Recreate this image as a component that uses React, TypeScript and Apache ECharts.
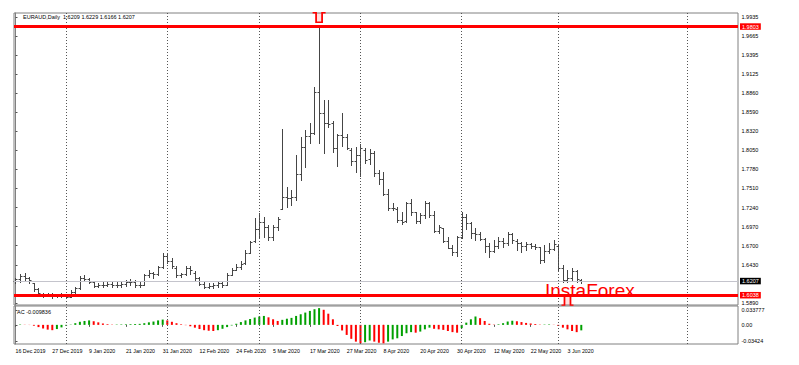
import { useEffect, useRef } from 'react';
import * as echarts from 'echarts';

// ---- data ----
const dateLabels = ['16 Dec 2019', '27 Dec 2019', '9 Jan 2020', '21 Jan 2020', '31 Jan 2020', '12 Feb 2020', '24 Feb 2020', '5 Mar 2020', '17 Mar 2020', '27 Mar 2020', '8 Apr 2020', '20 Apr 2020', '30 Apr 2020', '12 May 2020', '22 May 2020', '3 Jun 2020'];
const dateLabelIdx = [0, 8, 16, 24, 32, 40, 48, 56, 64, 72, 80, 88, 96, 104, 112, 120];
const gridLineIdx = [11, 33, 53, 75, 97, 118, 146];

const openP = [1.6200, 1.6225, 1.6270, 1.6250, 1.6170, 1.6090, 1.6020, 1.6000, 1.6005, 1.5990, 1.6000, 1.5990, 1.5980, 1.6050, 1.6095, 1.6240, 1.6230, 1.6180, 1.6130, 1.6150, 1.6140, 1.6160, 1.6140, 1.6150, 1.6160, 1.6190, 1.6180, 1.6140, 1.6150, 1.6280, 1.6310, 1.6300, 1.6400, 1.6560, 1.6480, 1.6390, 1.6290, 1.6300, 1.6380, 1.6320, 1.6240, 1.6160, 1.6120, 1.6130, 1.6140, 1.6170, 1.6150, 1.6290, 1.6360, 1.6400, 1.6450, 1.6600, 1.6760, 1.6940, 1.7030, 1.6970, 1.6820, 1.6960, 1.7220, 1.7390, 1.7380, 1.7390, 1.7720, 1.8090, 1.8250, 1.8300, 1.8880, 1.8580, 1.8430, 1.8430, 1.8080, 1.8260, 1.8240, 1.8060, 1.7900, 1.7980, 1.8060, 1.7920, 1.8010, 1.7730, 1.7650, 1.7430, 1.7230, 1.7220, 1.7070, 1.7050, 1.7300, 1.7170, 1.7050, 1.7130, 1.7300, 1.7135, 1.6910, 1.6950, 1.6770, 1.6670, 1.6610, 1.6820, 1.7110, 1.7020, 1.6885, 1.6870, 1.6800, 1.6690, 1.6620, 1.6700, 1.6760, 1.6740, 1.6860, 1.6770, 1.6740, 1.6690, 1.6720, 1.6700, 1.6680, 1.6500, 1.6620, 1.6660, 1.6700, 1.6380, 1.6220, 1.6240, 1.6340, 1.6209];
const highP = [1.6243, 1.6300, 1.6314, 1.6257, 1.6172, 1.6102, 1.6031, 1.6030, 1.6025, 1.6020, 1.6030, 1.6020, 1.6070, 1.6110, 1.6270, 1.6290, 1.6250, 1.6185, 1.6170, 1.6180, 1.6200, 1.6180, 1.6180, 1.6185, 1.6220, 1.6230, 1.6210, 1.6180, 1.6300, 1.6350, 1.6330, 1.6420, 1.6590, 1.6600, 1.6530, 1.6420, 1.6320, 1.6420, 1.6420, 1.6340, 1.6260, 1.6180, 1.6170, 1.6175, 1.6200, 1.6190, 1.6310, 1.6390, 1.6440, 1.6480, 1.6640, 1.6760, 1.7098, 1.7167, 1.7110, 1.6993, 1.6993, 1.7106, 1.8351, 1.7531, 1.7488, 1.7983, 1.8242, 1.8337, 1.8431, 1.8949, 1.9803, 1.8761, 1.8761, 1.8464, 1.8276, 1.8573, 1.8285, 1.8078, 1.8101, 1.8134, 1.8078, 1.8071, 1.8040, 1.7771, 1.7738, 1.7502, 1.7300, 1.7253, 1.7182, 1.7323, 1.7361, 1.7182, 1.7160, 1.7333, 1.7314, 1.7191, 1.6993, 1.6955, 1.6828, 1.6710, 1.6840, 1.7180, 1.7153, 1.7030, 1.6946, 1.6899, 1.6810, 1.6734, 1.6781, 1.6828, 1.6805, 1.6899, 1.6880, 1.6790, 1.6757, 1.6757, 1.6743, 1.6724, 1.6687, 1.6710, 1.6734, 1.6781, 1.6710, 1.6427, 1.6357, 1.6380, 1.6357, 1.6229];
const lowP = [1.6172, 1.6186, 1.6215, 1.6172, 1.6059, 1.6003, 1.5975, 1.5985, 1.5965, 1.5980, 1.5970, 1.5960, 1.5975, 1.6030, 1.6090, 1.6200, 1.6170, 1.6110, 1.6110, 1.6120, 1.6130, 1.6120, 1.6120, 1.6120, 1.6130, 1.6150, 1.6120, 1.6110, 1.6140, 1.6260, 1.6250, 1.6290, 1.6390, 1.6450, 1.6390, 1.6260, 1.6260, 1.6290, 1.6300, 1.6215, 1.6140, 1.6100, 1.6100, 1.6105, 1.6120, 1.6120, 1.6140, 1.6280, 1.6350, 1.6370, 1.6440, 1.6590, 1.6750, 1.6828, 1.6828, 1.6781, 1.6781, 1.6923, 1.7220, 1.7248, 1.7276, 1.7347, 1.7630, 1.7818, 1.8148, 1.8280, 1.8148, 1.8016, 1.8383, 1.8030, 1.7832, 1.8115, 1.8064, 1.7842, 1.7738, 1.7691, 1.7866, 1.7859, 1.7691, 1.7569, 1.7417, 1.7205, 1.7205, 1.7040, 1.7003, 1.7040, 1.7135, 1.7017, 1.7017, 1.7088, 1.7111, 1.6899, 1.6876, 1.6748, 1.6663, 1.6569, 1.6550, 1.6810, 1.6941, 1.6805, 1.6781, 1.6781, 1.6616, 1.6545, 1.6616, 1.6663, 1.6687, 1.6710, 1.6740, 1.6639, 1.6616, 1.6639, 1.6663, 1.6649, 1.6451, 1.6474, 1.6593, 1.6639, 1.6357, 1.6191, 1.6191, 1.6215, 1.6191, 1.6166];
const closeP = [1.6230, 1.6270, 1.6250, 1.6210, 1.6085, 1.6030, 1.6000, 1.6010, 1.5985, 1.6000, 1.5990, 1.5975, 1.6050, 1.6095, 1.6240, 1.6230, 1.6190, 1.6130, 1.6150, 1.6140, 1.6160, 1.6140, 1.6150, 1.6160, 1.6190, 1.6180, 1.6140, 1.6150, 1.6280, 1.6310, 1.6300, 1.6400, 1.6560, 1.6480, 1.6420, 1.6290, 1.6300, 1.6380, 1.6350, 1.6240, 1.6160, 1.6120, 1.6130, 1.6140, 1.6170, 1.6150, 1.6290, 1.6360, 1.6400, 1.6440, 1.6600, 1.6750, 1.6940, 1.7030, 1.6970, 1.6820, 1.6960, 1.7080, 1.7390, 1.7380, 1.7390, 1.7720, 1.8090, 1.8250, 1.8300, 1.8880, 1.8580, 1.8430, 1.8420, 1.8080, 1.8260, 1.8240, 1.8080, 1.7900, 1.7980, 1.8080, 1.7910, 1.8010, 1.7730, 1.7650, 1.7430, 1.7230, 1.7240, 1.7070, 1.7040, 1.7300, 1.7170, 1.7050, 1.7130, 1.7300, 1.7135, 1.6910, 1.6960, 1.6770, 1.6670, 1.6610, 1.6820, 1.7110, 1.7020, 1.6885, 1.6870, 1.6800, 1.6690, 1.6620, 1.6700, 1.6760, 1.6740, 1.6860, 1.6780, 1.6740, 1.6690, 1.6720, 1.6700, 1.6680, 1.6500, 1.6620, 1.6660, 1.6720, 1.6380, 1.6220, 1.6240, 1.6340, 1.6230, 1.6207];

const acValues = [0.0004, 0.0007, 0.0003, -0.0003, -0.0015, -0.0040, -0.0065, -0.0085, -0.0095, -0.0075, -0.0045, -0.0015, 0.0005, 0.0030, 0.0055, 0.0070, 0.0080, 0.0065, 0.0045, 0.0025, 0.0012, 0.0005, 0.0006, 0.0008, 0.0010, 0.0012, 0.0015, 0.0018, 0.0030, 0.0045, 0.0060, 0.0080, 0.0095, 0.0080, 0.0055, 0.0030, 0.0010, -0.0005, -0.0025, -0.0050, -0.0075, -0.0095, -0.0105, -0.0110, -0.0095, -0.0070, -0.0040, -0.0010, 0.0020, 0.0050, 0.0080, 0.0105, 0.0130, 0.0150, 0.0160, 0.0135, 0.0100, 0.0070, 0.0090, 0.0110, 0.0125, 0.0160, 0.0190, 0.0220, 0.0250, 0.0280, 0.0300, 0.0270, 0.0200, 0.0100, -0.0020, -0.0100, -0.0180, -0.0250, -0.0300, -0.0330, -0.0310, -0.0280, -0.0300, -0.0320, -0.0330, -0.0300, -0.0260, -0.0240, -0.0200, -0.0150, -0.0130, -0.0140, -0.0120, -0.0080, -0.0050, -0.0070, -0.0080, -0.0090, -0.0110, -0.0130, -0.0140, -0.0060, 0.0040, 0.0100, 0.0150, 0.0120, 0.0070, 0.0020, 0.0005, 0.0010, 0.0030, 0.0060, 0.0075, 0.0065, 0.0050, 0.0035, 0.0025, 0.0015, 0.0005, 0.0006, 0.0008, 0.0003, -0.0020, -0.0050, -0.0080, -0.0110, -0.0130, -0.009836];

const priceTicks = [1.9935, 1.9665, 1.9395, 1.9125, 1.8860, 1.8590, 1.8320, 1.8050, 1.7780, 1.7510, 1.7240, 1.6970, 1.6700, 1.6430, 1.5890];
const acTickLabels = ['0.033777', '0.00', '-0.03424'];
const acTickPos = [0.0267, 0, -0.0288];

const hLevels = [
  { value: 1.9803, text: '1.9803', line: '#ff0000', width: 3, bg: '#ff0000' },
  { value: 1.6038, text: '1.6038', line: '#ff0000', width: 3, bg: '#ff0000' },
  { value: 1.6207, text: '1.6207', line: '#c4c4cc', width: 1, bg: '#000000' },
];
const markers = [
  { index: 66, price: 1.9928, path: 'path://M0,0 L3.5,0 L3.5,9.5 L9.5,9.5 L9.5,0 L13,0', size: [13, 9.5] },
  { index: 120, price: 1.5922, path: 'path://M0,9.5 L3,9.5 L3,0 L9,0 L9,9.5 L12,9.5', size: [12, 9] },
];

const FONT = '"Liberation Sans", Arial, sans-serif';
const BAR = '#454545';
const GREEN = '#00a000';
const RED = '#ff0000';
const X_MIN = -0.326;
const X_MAX = 157.07;

export default function App() {
  const ref = useRef<HTMLDivElement>(null);
  useEffect(() => {
    const chart = echarts.init(ref.current!, null, { renderer: 'svg' });
    const ohlcData = openP.map((o, i) => [i, o, highP[i], lowP[i], closeP[i]]);
    const acData = acValues.map((v, i) => ({
      value: [i, v],
      itemStyle: { color: i === 0 || v >= acValues[i - 1] ? GREEN : RED },
    }));
    const vLines = gridLineIdx.map((x) => ({ xAxis: x }));
    const dotted = { type: [1, 2] as any, color: '#555', width: 1 };

    const option: any = {
      animation: false,
      backgroundColor: '#ffffff',
      textStyle: { fontFamily: FONT },
      grid: [
        { left: 14, top: 13, width: 724, height: 292, show: true, borderColor: '#808080', borderWidth: 1, backgroundColor: 'transparent' },
        { left: 14, top: 306, width: 724, height: 38, show: true, borderColor: '#808080', borderWidth: 1, backgroundColor: 'transparent' },
      ],
      xAxis: [
        { type: 'value', gridIndex: 0, min: X_MIN, max: X_MAX, show: false },
        {
          type: 'value', gridIndex: 1, min: X_MIN, max: X_MAX,
          axisLine: { show: false },
          splitLine: { show: false },
          axisTick: { show: true, customValues: dateLabelIdx, length: 2, lineStyle: { color: '#555' } },
          axisLabel: {
            customValues: dateLabelIdx, align: 'left', margin: 4, fontSize: 5.3, color: '#000', fontFamily: FONT,
            formatter: (v: number) => dateLabels[dateLabelIdx.indexOf(Math.round(v))] ?? '',
          },
        },
      ],
      yAxis: [
        {
          type: 'value', gridIndex: 0, position: 'right', min: 1.58615, max: 1.99916, scale: true,
          axisLine: { show: true, lineStyle: { color: '#808080' } },
          splitLine: { show: false },
          axisTick: { show: true, customValues: priceTicks, length: 2, lineStyle: { color: '#555' } },
          axisLabel: { customValues: priceTicks, margin: 3.5, fontSize: 5.5, color: '#000', fontFamily: FONT, formatter: (v: number) => v.toFixed(4) },
        },
        {
          type: 'value', gridIndex: 1, position: 'right', min: -0.03424, max: 0.033777,
          axisLine: { show: true, lineStyle: { color: '#808080' } },
          splitLine: { show: false },
          axisTick: { show: true, customValues: acTickPos, length: 2, lineStyle: { color: '#555' } },
          axisLabel: {
            customValues: acTickPos, margin: 3.5, fontSize: 5.5, color: '#000', fontFamily: FONT,
            formatter: (v: number) => {
              let best = 0;
              acTickPos.forEach((p, k) => { if (Math.abs(p - v) < Math.abs(acTickPos[best] - v)) best = k; });
              return acTickLabels[best];
            },
          },
        },
      ],
      series: [
        {
          type: 'custom',
          name: 'EURAUD',
          xAxisIndex: 0, yAxisIndex: 0,
          data: ohlcData,
          encode: { x: 0, y: [1, 2, 3, 4] },
          renderItem: (_p: any, api: any) => {
            const i = api.value(0);
            const o = api.coord([i, api.value(1)]);
            const h = api.coord([i, api.value(2)]);
            const l = api.coord([i, api.value(3)]);
            const c = api.coord([i, api.value(4)]);
            const x = Math.round(o[0]) + 0.5;
            const style = { stroke: BAR, lineWidth: 1 };
            const yo = Math.round(o[1]) + 0.5;
            const yc = Math.round(c[1]) + 0.5;
            return {
              type: 'group',
              children: [
                { type: 'line', shape: { x1: x, y1: Math.round(h[1]), x2: x, y2: Math.round(l[1]) + 1 }, style },
                { type: 'line', shape: { x1: x - 2, y1: yo, x2: x, y2: yo }, style },
                { type: 'line', shape: { x1: x, y1: yc, x2: x + 2, y2: yc }, style },
              ],
            };
          },
          markLine: {
            silent: true,
            symbol: ['none', 'none'],
            lineStyle: dotted,
            label: { show: false },
            data: [
              ...vLines,
              ...hLevels.map((h) => ({
                yAxis: h.value,
                lineStyle: { color: h.line, width: h.width, type: 'solid' },
                label: {
                  show: true, position: 'end', distance: 2, formatter: h.text,
                  color: '#ffffff', backgroundColor: h.bg, fontSize: 5.5, fontFamily: FONT,
                  padding: [0.5, 2, 0, 2], lineHeight: 6,
                },
              })),
            ],
          },
          markPoint: {
            silent: true,
            label: { show: false },
            itemStyle: { color: 'rgba(255,0,0,0.12)', borderColor: '#ff0000', borderWidth: 1.5 },
            data: markers.map((m) => ({ coord: [m.index, m.price], symbol: m.path, symbolSize: m.size })),
          },
          z: 3,
        },
        {
          type: 'bar',
          name: 'AC',
          xAxisIndex: 1, yAxisIndex: 1,
          data: acData,
          barWidth: 2,
          markLine: {
            silent: true,
            symbol: ['none', 'none'],
            lineStyle: dotted,
            label: { show: false },
            data: vLines,
          },
        },
      ],
      graphic: [
        { type: 'text', x: 23, y: 13.5, z: 50, style: { text: 'EURAUD,Daily  1.6209 1.6229 1.6166 1.6207', fontSize: 5.5, fontFamily: FONT, fill: '#000' } },
        { type: 'text', x: 17, y: 308.5, z: 50, style: { text: 'AC -0.009836', fontSize: 5.5, fontFamily: FONT, fill: '#000' } },
        { type: 'text', x: 545, y: 290, z: 100, style: { text: 'InstaForex', fontSize: 19, fontFamily: FONT, fill: '#ff0000', verticalAlign: 'middle' } },
      ],
    };
    chart.setOption(option);
    return () => chart.dispose();
  }, []);
  return <div ref={ref} style={{ position: 'fixed', left: 0, top: 0, width: 799, height: 365, background: '#fff' }} />;
}
